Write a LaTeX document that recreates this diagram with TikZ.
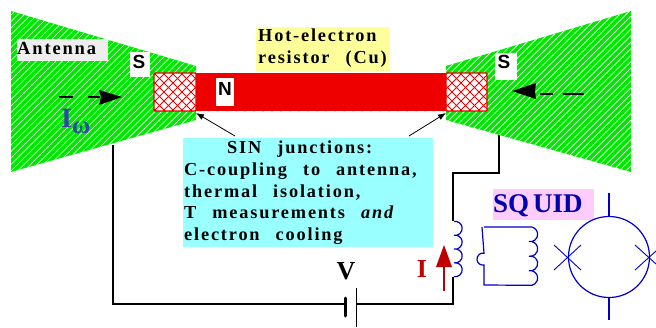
\documentclass[tikz,border=0pt]{standalone}
\usepackage{fontspec}
\setmainfont{Liberation Serif}
\newfontfamily\spaced[LetterSpace=10,WordSpace=2.5]{Liberation Serif}
\newfontfamily\labelsans{Liberation Sans}
\usetikzlibrary{arrows.meta}
\definecolor{hatchgreen}{HTML}{00E800}
\definecolor{barred}{HTML}{EE0000}
\definecolor{cyanbox}{HTML}{99FFFF}
\definecolor{yellowbox}{HTML}{FFFF99}
\definecolor{pinkbox}{HTML}{FFCCFF}
\definecolor{greybox}{HTML}{EEEEEE}
\definecolor{coilblue}{HTML}{0000CC}
\definecolor{darkred}{HTML}{C00000}
\definecolor{omegablue}{HTML}{3344AA}
\tikzset{
  flatbox/.style={inner sep=0pt,outer sep=0pt,anchor=north west},
  bodytext/.style={inner sep=0pt,anchor=base west,font=\spaced\bfseries\fontsize{18.3}{20}\selectfont},
  wire/.style={draw=black,line width=1.2pt},
  coilline/.style={draw=coilblue,line width=1.2pt},
  thinarrow/.style={draw=black,line width=0.8pt,-{Latex[length=8pt,width=6pt]}},
  dashpiece/.style={draw=black,line width=1.2pt},
  padlabel/.style={inner sep=0pt,font=\labelsans\bfseries\fontsize{19}{21}\selectfont},
}
\begin{document}
\begin{tikzpicture}[x=1pt,y=-1pt]
\useasboundingbox (0,0) rectangle (656,327);
% antennas
\fill[hatchgreen] (11,11) -- (196,66) -- (196,120) -- (11,172) -- cycle;
\begin{scope}
\clip (11,11) -- (196,66) -- (196,120) -- (11,172) -- cycle;
\foreach \k in {0,6.5,...,380} \draw[white,line width=0.7pt] (\k,0) -- (\k-190,190);
\end{scope}
\fill[hatchgreen] (631,11) -- (446,66) -- (446,120) -- (631,172) -- cycle;
\begin{scope}
\clip (631,11) -- (446,66) -- (446,120) -- (631,172) -- cycle;
\foreach \k in {400,406.5,...,840} \draw[white,line width=0.7pt] (\k,0) -- (\k-190,190);
\end{scope}
% bar
\fill[barred] (196,73) rectangle (446,111);
\node[flatbox,fill=white,minimum width=42pt,minimum height=38pt] (padl) at (154,73) {};
\node[flatbox,fill=white,minimum width=41pt,minimum height=38pt] (padr) at (446,73) {};
\begin{scope}
\clip (154,73) rectangle (487,111);
\foreach \k in {100,109,...,540} {
  \draw[barred,line width=0.8pt] (\k,73) -- (\k+38,111);
  \draw[barred,line width=0.8pt] (\k,111) -- (\k+38,73);
}
\fill[barred] (196,73) rectangle (446,111);
\end{scope}
\draw[barred,line width=1.2pt,rounded corners=1pt] (154,73) rectangle (196,111);
\draw[barred,line width=1.2pt,rounded corners=1pt] (446,73) rectangle (487,111);
% labels on the device
\node[flatbox,fill=greybox,minimum width=91pt,minimum height=22pt] (antbox) at (17,39) {};
\node[inner sep=0pt,anchor=base west,font=\spaced\bfseries\fontsize{18.5}{20}\selectfont] (ant) at (17,54) {Antenna};
\node[flatbox,fill=white,minimum width=20pt,minimum height=25pt] (sbl) at (130,52) {};
\node[padlabel,anchor=base] (sl) at (139,68) {S};
\node[flatbox,fill=white,minimum width=22pt,minimum height=27pt] (sbr) at (495,53) {};
\node[padlabel,anchor=base] (sr) at (504,68) {S};
\node[flatbox,fill=white,minimum width=18pt,minimum height=28pt] (nb) at (216,78) {};
\node[padlabel,anchor=base] (n) at (225,95) {N};
% hot electron
\node[flatbox,fill=yellowbox,minimum width=134pt,minimum height=44pt] (hotbox) at (256,27) {};
\node[bodytext] (hot1) at (258,41) {Hot-electron};
\node[bodytext] (hot2) at (258,63) {resistor (Cu)};
% SIN box
\node[flatbox,fill=cyanbox,minimum width=250pt,minimum height=109pt] (sinbox) at (183,138) {};
\node[bodytext] (s1) at (227,153) {SIN junctions:};
\node[bodytext] (s2) at (184,175) {C-coupling to antenna,};
\node[bodytext] (s3) at (184,197) {thermal isolation,};
\node[bodytext] (s4) at (184,218) {T measurements \itshape and};
\node[bodytext] (s5) at (184,240) {electron cooling};
\coordinate (al) at (235,136);
\coordinate (ar) at (409,136);
\coordinate (tl) at (196,113);
\coordinate (tr) at (446,113);
\draw[thinarrow] (al) -- (tl);
\draw[thinarrow] (ar) -- (tr);
% current arrows
\coordinate (d1a) at (59,97); \coordinate (d1b) at (73,97);
\coordinate (d2a) at (88,97); \coordinate (d2b) at (100,97);
\draw[dashpiece] (d1a) -- (d1b);
\draw[dashpiece] (d2a) -- (d2b);
\fill[black] (122,97) -- (99,90) -- (101,97) -- (99,105) -- cycle;
\coordinate (d3a) at (540,94); \coordinate (d3b) at (553,94);
\coordinate (d4a) at (563,94); \coordinate (d4b) at (584,94);
\draw[dashpiece] (d3a) -- (d3b);
\draw[dashpiece] (d4a) -- (d4b);
\fill[black] (512,91) -- (536,83) -- (535,91) -- (536,99) -- cycle;
\node[inner sep=0pt,anchor=base west,text=omegablue,font=\bfseries\fontsize{28}{30}\selectfont] (iom) at (61,127) {I};
\node[inner sep=0pt,anchor=base west,text=omegablue,font=\bfseries\fontsize{25}{27}\selectfont] (om) at (72,133) {ω};
% circuit
\coordinate (wl) at (113,145);
\coordinate (wlb) at (113,304);
\coordinate (bat1) at (345,304);
\coordinate (bat2) at (356,304);
\coordinate (wrb) at (453,304);
\coordinate (cb) at (453,277);
\coordinate (ct) at (453,221);
\coordinate (wrm) at (453,173);
\coordinate (wrn) at (499,173);
\coordinate (wrt) at (499,135);
\draw[wire] (wl) -- (wlb) -- (bat1);
\draw[wire] (bat2) -- (wrb) -- (cb);
\draw[wire] (ct) -- (wrm) -- (wrn) -- (wrt);
\coordinate (p1a) at (345,298); \coordinate (p1b) at (345,316);
\coordinate (p2a) at (356,288); \coordinate (p2b) at (356,327);
\draw[black,line width=3pt,line cap=round] (p1a) -- (p1b);
\draw[black,line width=1pt] (p2a) -- (p2b);
\node[inner sep=0pt,anchor=base,font=\bfseries\fontsize{26}{28}\selectfont] (v) at (346,279) {V};
\node[inner sep=0pt,anchor=base,text=darkred,font=\bfseries\fontsize{26}{28}\selectfont] (i) at (422,277) {I};
\coordinate (ia) at (444,291);
\coordinate (ib) at (444,265);
\draw[darkred,line width=1.2pt] (ia) -- (ib);
\fill[darkred] (444,245) -- (436,267) -- (452,267) -- cycle;
% coils
\draw[coilline] (454,221.5)
  arc[start angle=-100,end angle=100,radius=7]
  arc[start angle=-100,end angle=100,radius=7]
  arc[start angle=-100,end angle=100,radius=7]
  arc[start angle=-100,end angle=100,radius=7];
\draw[coilline] (484,227) -- (529,227)
  arc[start angle=-100,end angle=100,radius=7.4]
  arc[start angle=-100,end angle=100,radius=7.4]
  arc[start angle=-100,end angle=100,radius=7.4]
  arc[start angle=-100,end angle=100,radius=7.4]
  -- (484,285) -- (484,265)
  arc[start angle=80,end angle=280,radius=6]
  -- (482,227);
% squid
\node[flatbox,fill=pinkbox,minimum width=101pt,minimum height=31pt] (sqbox) at (493,189) {};
\node[inner sep=0pt,anchor=base west,text=coilblue!85!black,font=\bfseries\fontsize{27}{29}\selectfont] (sq) at (493,212) {SQ\hspace{4pt}UID};
\node[circle,draw=coilblue,line width=1.2pt,minimum size=81pt,inner sep=0pt,outer sep=0pt] (loop) at (609,257) {};
\coordinate (lt) at (609,193);
\coordinate (lb) at (609,320);
\draw[coilline] (lt) -- (loop.north);
\draw[coilline] (lb) -- (loop.south);
\coordinate (x1a) at (554,245); \coordinate (x1b) at (581,270);
\coordinate (x2a) at (554,270); \coordinate (x2b) at (581,245);
\coordinate (x3a) at (635,245); \coordinate (x3b) at (656,264);
\coordinate (x4a) at (635,270); \coordinate (x4b) at (656,251);
\draw[coilline,line width=0.9pt] (x1a) -- (x1b) (x2a) -- (x2b) (x3a) -- (x3b) (x4a) -- (x4b);
\end{tikzpicture}
\end{document}
